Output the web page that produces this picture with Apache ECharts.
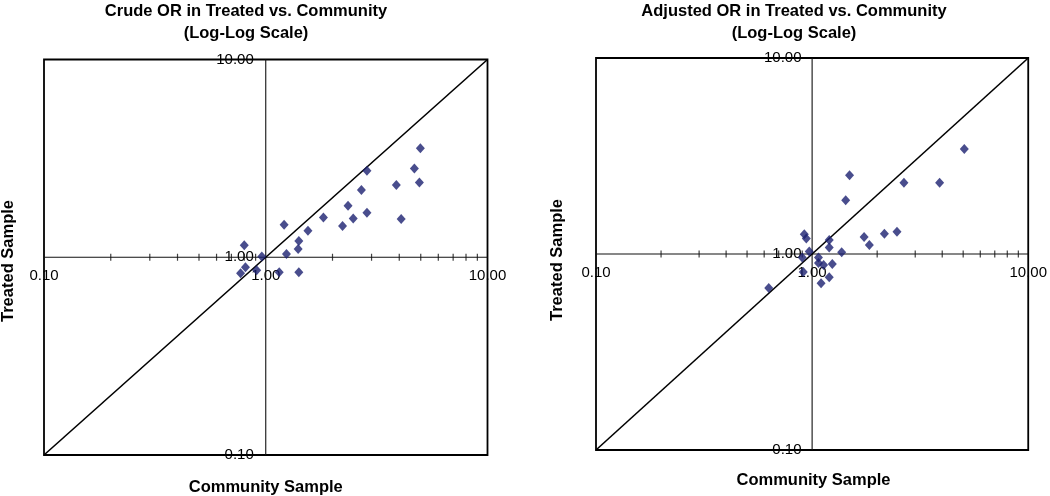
<!DOCTYPE html>
<html><head><meta charset="utf-8">
<script src="https://cdn.jsdelivr.net/npm/echarts@6/dist/echarts.min.js"></script>
<style>html,body{margin:0;padding:0;background:#fff}#c{width:1050px;height:496px}</style>
</head><body><div id="c"></div>
<script>
// ---- data ----
const tickValues = [0.1, 1, 10];
const tickLabels = ['0.10', '1.00', '10.00'];
const minorTickValues = [0.2, 0.3, 0.4, 0.5, 0.6, 0.7, 0.8, 0.9, 2, 3, 4, 5, 6, 7, 8, 9];
const crudeCommunity = [4.98, 4.68, 4.93, 3.88, 2.86, 2.70, 2.35, 2.86, 2.48, 2.22, 4.08, 1.82, 1.55, 1.41, 1.40, 1.21, 1.24, 0.80, 0.96, 0.81, 0.77, 0.91, 1.15, 1.41];
const crudeTreated   = [3.56, 2.81, 2.39, 2.32, 2.74, 2.19, 1.82, 1.68, 1.57, 1.44, 1.56, 1.59, 1.36, 1.21, 1.10, 1.46, 1.04, 1.15, 1.01, 0.89, 0.83, 0.86, 0.84, 0.84];
const adjustedCommunity = [5.06, 3.89, 2.66, 1.49, 1.43, 2.47, 2.16, 1.74, 1.84, 1.37, 1.20, 1.20, 0.92, 0.94, 0.97, 0.90, 1.07, 1.07, 1.13, 1.24, 0.91, 1.20, 1.10, 0.63];
const adjustedTreated   = [3.43, 2.31, 2.31, 2.52, 1.88, 1.30, 1.27, 1.22, 1.11, 1.02, 1.18, 1.08, 1.26, 1.20, 1.03, 0.96, 0.96, 0.90, 0.88, 0.89, 0.81, 0.76, 0.71, 0.67];
const chartTitles = ['Crude OR in Treated vs. Community\n(Log-Log Scale)', 'Adjusted OR in Treated vs. Community\n(Log-Log Scale)'];
const xAxisTitle = 'Community Sample';
const yAxisTitle = 'Treated Sample';

// ---- layout ----
const FONT = 'Liberation Sans, Arial, Helvetica, sans-serif';
const grids = [
  { left: 44, top: 59.5, width: 443.5, height: 395.5, titleX: 246, xTitleY: 487, yTitleX: 8.5, yTitleY: 261 },
  { left: 596, top: 58, width: 435, height: 392, titleX: 794, xTitleY: 480, yTitleX: 557, yTitleY: 260 }
];
const panels = [
  { x: crudeCommunity, y: crudeTreated },
  { x: adjustedCommunity, y: adjustedTreated }
];
const lo = tickValues[0], mid = tickValues[1], hi = tickValues[tickValues.length - 1];
const fmt = v => tickLabels[Math.round(Math.log10(v)) + 1];

const option = {
  backgroundColor: '#fff',
  animation: false,
  title: grids.map((g, i) => ({
    text: chartTitles[i], left: g.titleX, top: 0, textAlign: 'center', padding: 0,
    textStyle: { fontFamily: FONT, fontWeight: 'bold', fontSize: 16.5, lineHeight: 22, color: '#000' }
  })),
  grid: grids.map(g => ({ left: g.left, top: g.top, width: g.width, height: g.height, show: true, borderColor: '#000', borderWidth: 1.8, backgroundColor: 'transparent', containLabel: false })),
  xAxis: grids.map((g, i) => ({
    type: 'log', logBase: 10, min: lo, max: hi, gridIndex: i, position: 'bottom', offset: -g.height / 2,
    axisLine: { show: false }, axisTick: { show: false }, splitLine: { show: false },
    axisLabel: { formatter: fmt, margin: 11, fontSize: 15, color: '#000', fontFamily: FONT, showMinLabel: true, showMaxLabel: true }
  })),
  yAxis: grids.map((g, i) => ({
    type: 'log', logBase: 10, min: lo, max: hi, gridIndex: i, position: 'left', offset: -g.width / 2,
    axisLine: { show: false }, axisTick: { show: false }, splitLine: { show: false },
    axisLabel: { formatter: fmt, margin: 12, fontSize: 15, color: '#000', fontFamily: FONT, showMinLabel: true, showMaxLabel: true }
  })),
  graphic: [],
  series: []
};

grids.forEach((g, i) => {
  const common = { xAxisIndex: i, yAxisIndex: i, silent: true, animation: false };
  option.series.push(Object.assign({ type: 'line', data: [[mid, lo], [mid, hi]], symbol: 'none', lineStyle: { color: '#111', width: 1.1 }, z: 2 }, common));
  option.series.push(Object.assign({ type: 'line', data: [[lo, mid], [hi, mid]], symbol: 'none', lineStyle: { color: '#111', width: 1.1 }, z: 2 }, common));
  option.series.push(Object.assign({ type: 'line', data: [[lo, lo], [hi, hi]], symbol: 'none', lineStyle: { color: '#000', width: 1.6 }, z: 3 }, common));
  option.series.push(Object.assign({ type: 'scatter', data: minorTickValues.map(v => [v, mid]), symbol: 'rect', symbolSize: [1.2, 7], itemStyle: { color: '#111' }, z: 2 }, common));
  option.series.push(Object.assign({ type: 'scatter', data: panels[i].x.map((v, k) => [v, panels[i].y[k]]), symbol: 'diamond', symbolSize: [9, 10], itemStyle: { color: '#1b2170' }, z: 5 }, common));
  option.graphic.push({ type: 'text', x: g.left + g.width / 2, y: g.xTitleY, style: { text: xAxisTitle, font: 'bold 16.5px ' + FONT, fill: '#000', align: 'center', verticalAlign: 'middle' } });
  option.graphic.push({ type: 'text', x: g.yTitleX, y: g.yTitleY, rotation: Math.PI / 2, style: { text: yAxisTitle, font: 'bold 16.5px ' + FONT, fill: '#000', align: 'center', verticalAlign: 'middle' } });
});

const chart = echarts.init(document.getElementById('c'));
chart.setOption(option);
</script>
</body></html>
